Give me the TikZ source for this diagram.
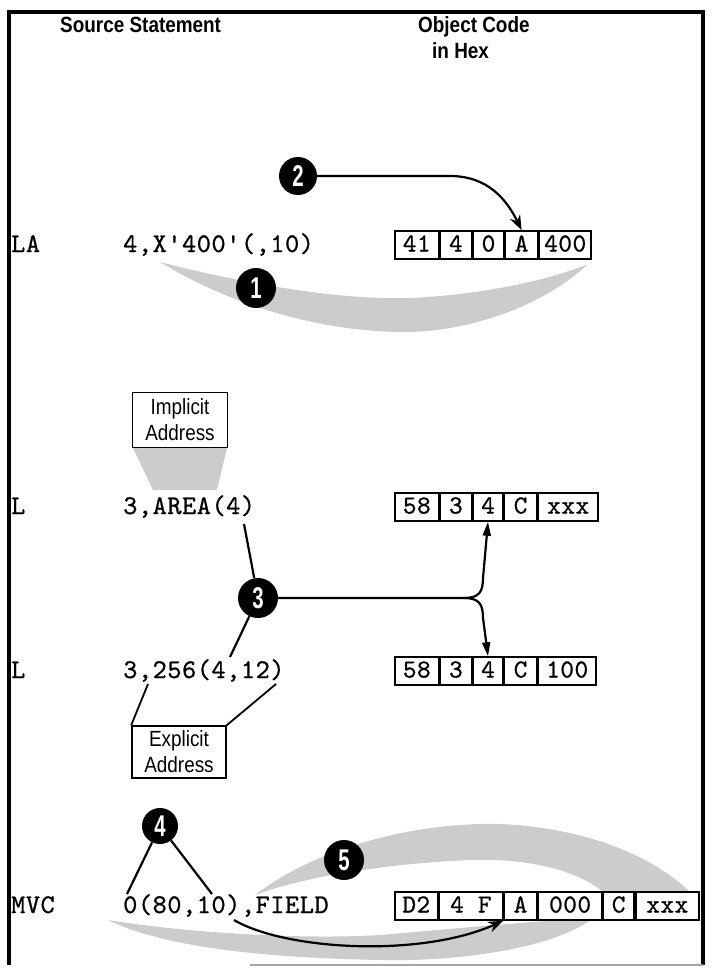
\documentclass[tikz,border=0pt]{standalone}
\usepackage{fontspec}
\usepackage{graphicx}
\usetikzlibrary{arrows.meta}
\setmainfont{Liberation Sans}
\newfontfamily\headfont{Liberation Sans}[FakeStretch=0.86]
\newfontfamily\labfont{Liberation Sans}[FakeStretch=0.86]
\newfontfamily\numfont{Liberation Sans}[FakeStretch=0.68]
\newfontfamily\codefont{lmmono10-regular.otf}[LetterSpace=2,FakeBold=0.8]
\tikzset{
 code/.style={anchor=base west, inner sep=0pt, font=\codefont\fontsize{27}{27}\selectfont},
 cell/.style={draw, line width=1.6pt, fill=white, minimum height=28pt, inner sep=0pt, text height=13pt, text depth=0pt, anchor=west, font=\codefont\fontsize{26}{26}\selectfont},
 num/.style={circle, fill=black, inner sep=0pt, minimum size=38pt, text=white, font=\numfont\bfseries\fontsize{30}{30}\selectfont},
 lbl/.style={draw, line width=1.6pt, fill=white, align=center, inner sep=0pt, font=\labfont\fontsize{22}{26}\selectfont},
 conn/.style={line width=2.2pt},
 band/.style={fill=black!20},
 head/.style={inner sep=0pt, anchor=base west, font=\headfont\bfseries\fontsize{22}{26}\selectfont},
 bigtip/.style={-{Stealth[length=15pt,width=11pt]}},
 thintip/.style={-{Triangle[length=14pt,width=8pt]}},
}
\begin{document}
\begin{tikzpicture}[x=1pt,y=-1pt]
\useasboundingbox (0,0) rectangle (713,974);
% frame
\draw[line width=4.5pt] (9,965) -- (9,12) -- (703,12) -- (703,965);
\draw[line width=1.5pt, black!35] (250,965) -- (703,965);
% headers
\node[head] (hsrc) at (60,33) {Source Statement};
\node[head] (hobj) at (418,33) {Object Code};
\node[head] (hhex) at (432,59) {in Hex};
% gray bands
\fill[band] (160,262) .. controls (250,285) and (340,300) .. (410,298) .. controls (480,295) and (550,280) .. (588,264)
  .. controls (545,305) and (470,332) .. (405,332) .. controls (320,332) and (230,305) .. (160,262) -- cycle;
\fill[band] (133,448) -- (227,448) -- (217,490) -- (153,490) -- cycle;
\fill[band] (108,920) .. controls (180,932) and (300,940) .. (380,935) .. controls (440,930) and (520,922) .. (593,918)
  .. controls (560,945) and (470,962) .. (380,960) .. controls (280,958) and (170,950) .. (108,920) -- cycle;
\fill[band] (255,895) .. controls (320,845) and (420,822) .. (500,824) .. controls (590,828) and (655,858) .. (690,892)
  -- (603,892) .. controls (575,868) and (520,858) .. (470,860) .. controls (380,864) and (300,878) .. (255,895) -- cycle;
% LA row
\node[code] (laop) at (11,252) {LA};
\node[code] (laarg) at (123,252) {4,X'400'(,10)};
\node[cell, minimum width=44pt] (la1) at (394,245) {41};
\node[cell, minimum width=31pt] (la2) at (la1.east) {4};
\node[cell, minimum width=31pt] (la3) at (la2.east) {0};
\node[cell, minimum width=32pt] (la4) at (la3.east) {A};
\node[cell, minimum width=52pt] (la5) at (la4.east) {400};
\node[num] (c2) at (298,176) {2};
\node[num, minimum size=40pt] (c1) at (256,288) {1};
\draw[conn, bigtip] (c2.east) -- (450,176) .. controls (488,176) and (507,200) .. (la4.north);
% Implicit address
\node[lbl, minimum width=95pt, minimum height=55pt] (imp) at (180,420) {Implicit\\Address};
% L row 1
\node[code] (l1op) at (11,514) {L};
\node[code] (l1arg) at (123,514) {3,AREA(4)};
\node[cell, minimum width=44pt] (l1a) at (394,507) {58};
\node[cell, minimum width=31pt] (l1b) at (l1a.east) {3};
\node[cell, minimum width=30pt] (l1c) at (l1b.east) {4};
\node[cell, minimum width=32pt] (l1d) at (l1c.east) {C};
\node[cell, minimum width=60pt] (l1e) at (l1d.east) {xxx};
% L row 2
\node[code] (l2op) at (11,678) {L};
\node[code] (l2arg) at (123,678) {3,256(4,12)};
\node[cell, minimum width=44pt] (l2a) at (394,671) {58};
\node[cell, minimum width=31pt] (l2b) at (l2a.east) {3};
\node[cell, minimum width=30pt] (l2c) at (l2b.east) {4};
\node[cell, minimum width=32pt] (l2d) at (l2c.east) {C};
\node[cell, minimum width=58pt] (l2e) at (l2d.east) {100};
% circle 3 and its connectors
\node[num, minimum size=40pt] (c3) at (258,598) {3};
\coordinate (l1tail) at (244,524);
\coordinate (l2tail) at (230,657);
\coordinate (jn) at (464,598);
\draw[conn] (l1tail) -- (c3);
\draw[conn] (c3) -- (l2tail);
\draw[conn, thintip] (c3.east) -- (jn) .. controls (479,598) and (483,592) .. (483,578) -- (l1c.south);
\draw[conn, thintip] (jn) .. controls (479,598) and (483,604) .. (483,618) -- (l2c.north);
% Explicit address
\node[lbl, minimum width=94pt, minimum height=52pt] (exp) at (179,752) {Explicit\\Address};
\coordinate (commaL) at (148,684);
\coordinate (parR) at (276,684);
\draw[line width=1.8pt] (commaL) -- (exp.north west);
\draw[line width=1.8pt] (parR) -- (exp.north east);
% MVC row
\node[code] (mvop) at (11,913) {MVC};
\node[code] (mvarg) at (123,913) {0(80,10),FIELD};
\node[cell, minimum width=43pt] (mv1) at (394,906) {D2};
\node[cell, minimum width=63pt] (mv2) at (mv1.east) {4 F};
\node[cell, minimum width=33pt] (mv3) at (mv2.east) {A};
\node[cell, minimum width=63pt] (mv4) at (mv3.east) {000};
\node[cell, minimum width=31pt] (mv5) at (mv4.east) {C};
\node[cell, minimum width=63pt] (mv6) at (mv5.east) {xxx};
\node[num, minimum size=36pt] (c4) at (160,826) {4};
\node[num, minimum size=40pt] (c5) at (344,860) {5};
\coordinate (m0) at (127,894);
\coordinate (m10) at (212,894);
\draw[conn] (c4) -- (m0);
\draw[conn] (c4) -- (m10);
\coordinate (m5s) at (234,920);
\draw[conn, bigtip] (m5s) .. controls (285,950) and (420,958) .. (mv3.south west);
\end{tikzpicture}
\end{document}
